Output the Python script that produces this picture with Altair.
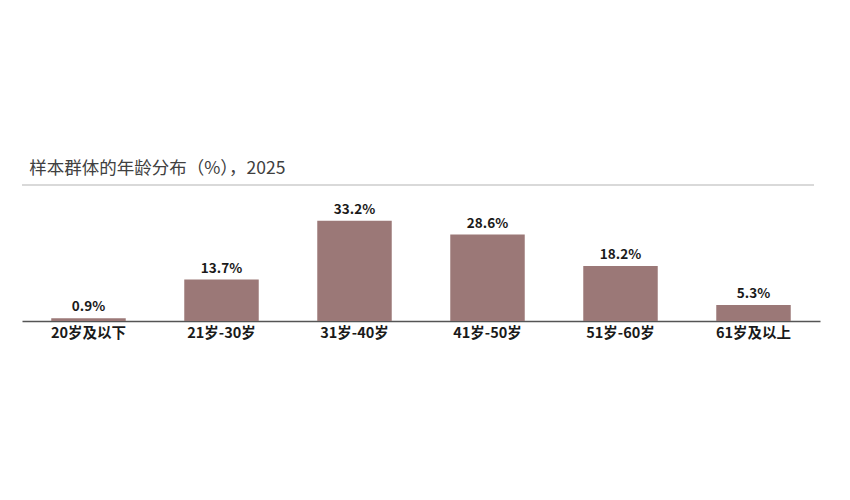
import altair as alt
import pandas as pd

categories = ["20岁及以下", "21岁-30岁", "31岁-40岁", "41岁-50岁", "51岁-60岁", "61岁及以上"]
values = [0.9, 13.7, 33.2, 28.6, 18.2, 5.3]
labels = ["0.9%", "13.7%", "33.2%", "28.6%", "18.2%", "5.3%"]

df = pd.DataFrame({"cat": categories, "val": values, "lab": labels})

FONT = "Noto Sans CJK SC"

x = alt.X("cat:N", sort=categories, title=None,
          scale=alt.Scale(paddingInner=0.44, paddingOuter=0.22),
          axis=alt.Axis(labelAngle=0, labelFont=FONT, labelFontSize=14.5, labelFontWeight="bold",
                        labelColor="#1a1a1a", ticks=False, domainColor="#555555", domainWidth=1.5,
                        labelPadding=5))
y = alt.Y("val:Q", title=None, scale=alt.Scale(domain=[0, 42]), axis=None)

bars = alt.Chart(df).mark_bar(color="#9b7877").encode(x=x, y=y)
text = alt.Chart(df).mark_text(baseline="bottom", dy=-4, font=FONT, fontSize=13.5,
                               fontWeight="bold", color="#1a1a1a").encode(
    x=alt.X("cat:N", sort=categories), y="val:Q", text="lab:N")
topline = alt.Chart(df).mark_rule(color="#d9d9d9", strokeWidth=1.5).encode(
    x=alt.value(0), x2=alt.value(792), y=alt.value(0))

chart = alt.layer(topline, bars, text).properties(
    width=798, height=136,
    title=alt.TitleParams("样本群体的年龄分布（%），2025", anchor="start", dx=8, offset=7,
                          font=FONT, fontSize=17.5, fontWeight="normal", color="#404040"),
    autosize=alt.AutoSizeParams(type="none"),
    padding={"left": 14, "top": 177, "right": 14, "bottom": 40},
).configure_view(stroke=None)

chart.save("out.html", embed_options={"renderer": "svg", "actions": False})
